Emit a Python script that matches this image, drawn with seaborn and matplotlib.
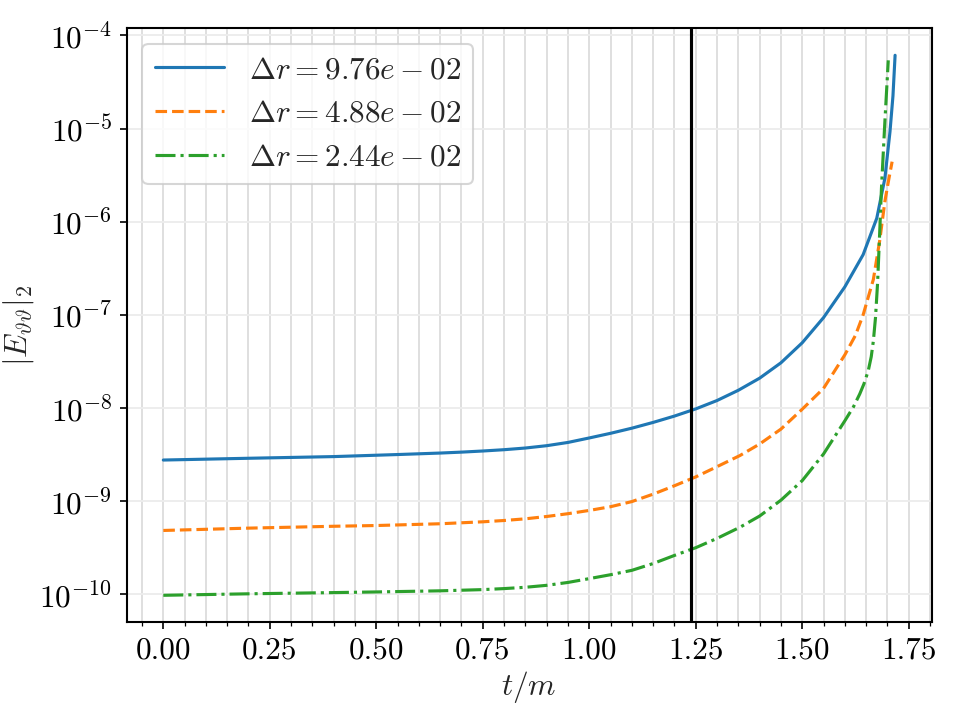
import numpy as np
import pandas as pd
import matplotlib
matplotlib.use("Agg")
import matplotlib.pyplot as plt
import matplotlib.ticker as mticker
import seaborn as sns

# ---- data; errors stored as log10 values ----
t_blue = [0.00, 0.20, 0.40, 0.55, 0.65, 0.70, 0.75, 0.80, 0.85, 0.90, 0.95, 1.00,
          1.05, 1.10, 1.15, 1.20, 1.25, 1.30, 1.35, 1.40, 1.45, 1.50, 1.55, 1.60,
          1.643, 1.675, 1.694, 1.706, 1.713, 1.718]
log_e_blue = [-8.559, -8.540, -8.522, -8.500, -8.484, -8.474, -8.462, -8.448, -8.430,
              -8.405, -8.370, -8.322, -8.272, -8.217, -8.155, -8.087, -8.010, -7.920,
              -7.810, -7.680, -7.515, -7.300, -7.030, -6.700, -6.354, -5.963, -5.535,
              -5.035, -4.650, -4.214]

t_orange = [0.00, 0.20, 0.40, 0.50, 0.65, 0.75, 0.80, 0.85, 0.90, 0.95, 1.00, 1.05,
            1.10, 1.15, 1.20, 1.25, 1.30, 1.354, 1.40, 1.45, 1.50, 1.55, 1.60, 1.625,
            1.643, 1.667, 1.682, 1.694, 1.703, 1.711]
log_e_orange = [-9.315, -9.290, -9.270, -9.262, -9.243, -9.222, -9.208, -9.190, -9.165,
                -9.135, -9.100, -9.060, -9.005, -8.925, -8.835, -8.740, -8.630, -8.510,
                -8.387, -8.227, -8.013, -7.790, -7.430, -7.220, -7.000, -6.620, -6.200,
                -5.784, -5.550, -5.356]

t_green = [0.00, 0.20, 0.40, 0.50, 0.65, 0.75, 0.80, 0.85, 0.90, 0.95, 1.00, 1.05,
           1.10, 1.15, 1.20, 1.25, 1.30, 1.354, 1.40, 1.45, 1.50, 1.55, 1.60, 1.62,
           1.635, 1.645, 1.655, 1.662, 1.667, 1.672, 1.677, 1.682, 1.686, 1.694, 1.702]
log_e_green = [-10.011, -9.995, -9.982, -9.975, -9.963, -9.950, -9.939, -9.925, -9.904,
               -9.873, -9.832, -9.790, -9.743, -9.670, -9.583, -9.500, -9.400, -9.280,
               -9.160, -8.990, -8.780, -8.494, -8.138, -7.990, -7.850, -7.740, -7.600,
               -7.450, -7.280, -7.030, -6.650, -6.100, -5.641, -4.928, -4.268]

labels = [r"$\Delta r = 9.76e-02$", r"$\Delta r = 4.88e-02$", r"$\Delta r = 2.44e-02$"]
colors = ["#1f77b4", "#ff7f0e", "#2ca02c"]
styles = ["-", "--", "-."]
t_mark = 1.238

# ---- style ----
sns.set_theme(style="ticks", palette="tab10")
plt.rcParams.update({
    "font.family": "serif",
    "font.serif": ["cmr10", "DejaVu Serif"],
    "mathtext.fontset": "cm",
    "axes.formatter.use_mathtext": True,
    "axes.unicode_minus": True,
    "font.size": 15,
    "axes.labelsize": 15,
    "xtick.labelsize": 15,
    "ytick.labelsize": 15,
    "legend.fontsize": 15,
    "axes.edgecolor": "black",
    "axes.linewidth": 1.0,
    "xtick.color": "black",
    "ytick.color": "black",
    "xtick.major.size": 3.5,
    "xtick.minor.size": 2.0,
    "ytick.major.size": 3.5,
    "xtick.major.width": 0.8,
    "ytick.major.width": 0.8,
    "xtick.minor.width": 0.6,
})

fig, ax = plt.subplots(figsize=(6.4, 4.8), dpi=150)
fig.subplots_adjust(left=0.132, right=0.9705, top=0.9607, bottom=0.1357)

series = [(t_blue, log_e_blue), (t_orange, log_e_orange), (t_green, log_e_green)]
for (t, le), lab, c, ls in zip(series, labels, colors, styles):
    df = pd.DataFrame({"t": t, "e": np.power(10.0, le)})
    sns.lineplot(data=df, x="t", y="e", ax=ax, color=c, linestyle=ls,
                 linewidth=1.5, label=lab, estimator=None)

ax.axvline(t_mark, color="black", linewidth=1.5)

ax.set_yscale("log")
ax.yaxis.set_major_locator(mticker.LogLocator(base=10, numticks=20))
ax.yaxis.set_minor_locator(mticker.NullLocator())
ax.xaxis.set_major_locator(mticker.MultipleLocator(0.25))
ax.xaxis.set_minor_locator(mticker.MultipleLocator(0.05))
ax.xaxis.set_major_formatter(mticker.FormatStrFormatter("%.2f"))

ax.grid(axis="x", which="both", color="#dddddd", linewidth=0.9)
ax.grid(axis="y", which="major", color="#ececec", linewidth=0.9)
ax.set_axisbelow(True)

ax.set_xlabel(r"$t/m$", labelpad=2)
ax.set_ylabel(r"$|E_{\vartheta\vartheta}|_2$")
ax.yaxis.set_label_coords(-0.113, 0.5)

leg = ax.legend(loc="upper left", frameon=True, fancybox=True, framealpha=0.8,
                edgecolor="#cccccc", handlelength=2.2)
for line in leg.get_lines():
    line.set_linewidth(1.5)

for s in ax.spines.values():
    s.set_visible(True)
    s.set_color("black")

fig.savefig("out.png", dpi=150)
